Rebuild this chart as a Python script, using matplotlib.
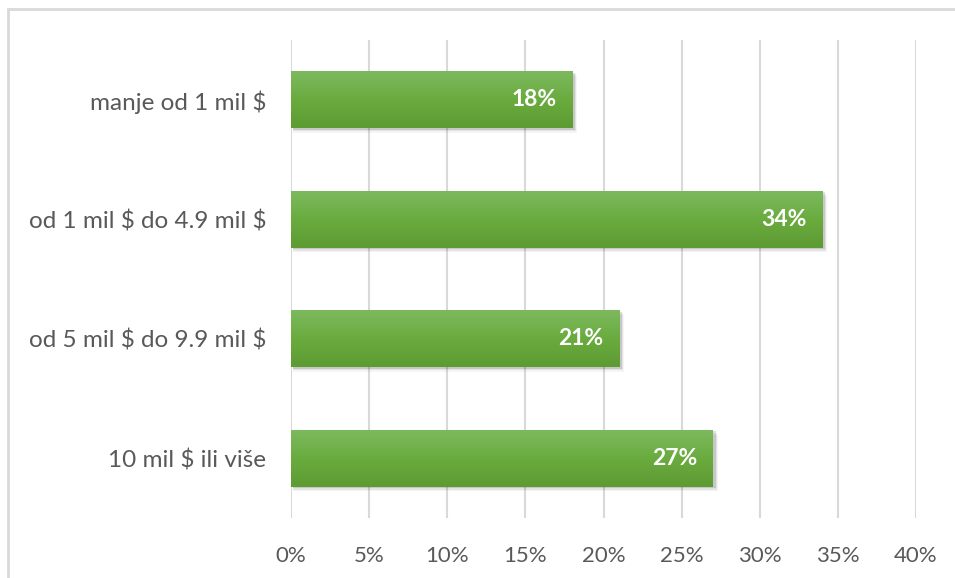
import numpy as np
import matplotlib.pyplot as plt
from matplotlib.colors import LinearSegmentedColormap
from matplotlib.patches import Rectangle

categories = ["manje od 1 mil $", "od 1 mil $ do 4.9 mil $", "od 5 mil $ do 9.9 mil $", "10 mil $ ili više"]
values = [18, 34, 21, 27]
xticks = [0, 5, 10, 15, 20, 25, 30, 35, 40]

plt.rcParams['font.family'] = ['Lato', 'DejaVu Sans']
plt.rcParams['text.parse_math'] = False

fig = plt.figure(figsize=(9.55, 5.78), dpi=100)
# outer chart border
fig.patches.append(Rectangle((8 / 955, -0.01), 1.0, 1 - 9 / 578 + 0.01, transform=fig.transFigure,
                             fill=False, edgecolor='#d9d9d9', linewidth=2, zorder=0))
ax = fig.add_axes([291 / 955, 1 - 518 / 578, (916 - 291) / 955, (518 - 40) / 578])

y = np.arange(len(categories))
h = 0.475
cmap = LinearSegmentedColormap.from_list('g', ['#7cb95e', '#6aab3e', '#5d9b33'])
grad = np.linspace(0, 1, 64).reshape(-1, 1)

for yi, v in zip(y, values):
    # soft shadow below / right
    for k, a in enumerate([0.12, 0.07, 0.04]):
        off = 0.013 * (k + 1)
        ax.add_patch(Rectangle((0.1, yi - h / 2 + off), v + 0.07 * (k + 1), h, facecolor='black',
                               alpha=a, edgecolor='none', zorder=2))
    ax.imshow(grad, cmap=cmap, aspect='auto', extent=[0, v, yi + h / 2, yi - h / 2],
              origin='upper', zorder=3, interpolation='bilinear')
    ax.text(v - 1.0, yi, f"{v}%", ha='right', va='center', color='white',
            fontsize=16.5, fontweight='bold', zorder=4)

ax.set_xlim(0, 40)
ax.set_ylim(3.5, -0.5)
ax.set_xticks(xticks)
ax.set_xticklabels([f"{t}%" for t in xticks])
ax.set_yticks(y)
ax.set_yticklabels(categories)
ax.grid(axis='x', color='#d9d9d9', linewidth=1.5, zorder=1)
ax.set_axisbelow(True)
for s in ax.spines.values():
    s.set_visible(False)
ax.tick_params(length=0, labelcolor='#595959')
ax.tick_params(axis='x', pad=20, labelsize=16)
ax.tick_params(axis='y', pad=18, labelsize=17.5)

fig.savefig('out.png', dpi=100)
